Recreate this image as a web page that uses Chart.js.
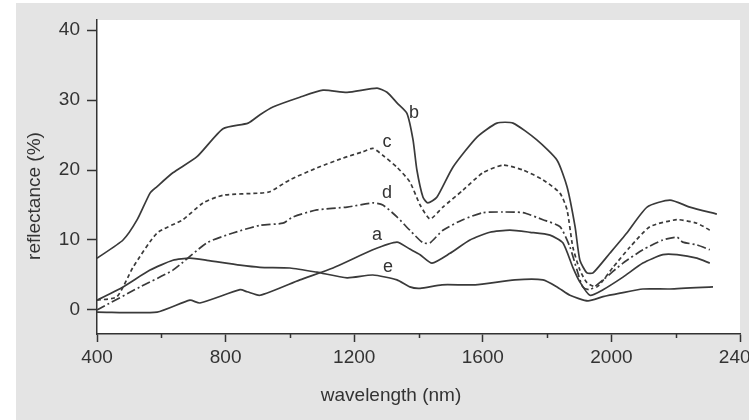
<!DOCTYPE html>
<html>
<head>
<meta charset="utf-8">
<script src="https://cdn.jsdelivr.net/npm/chart.js"></script>
<style>
  html, body { margin: 0; padding: 0; background: #fff; }
</style>
</head>
<body>
<canvas id="spectra" width="749" height="420"></canvas>
<script>
// wavelength (nm) / reflectance (%), one pair per curve
const aWave = [400, 587, 689, 720, 845, 867, 907, 1031, 1134, 1258, 1333, 1373, 1405, 1442, 1498, 1560, 1622, 1684, 1747, 1809, 1849, 1880, 1902, 1933, 1974, 2036, 2098, 2160, 2204, 2266, 2306];
const aRefl = [-0.3, -0.3, 1.4, 1.0, 2.9, 2.6, 2.1, 4.3, 6.0, 8.6, 9.7, 8.7, 7.9, 6.7, 8.1, 10.0, 11.1, 11.4, 11.1, 10.7, 9.6, 6.1, 4.0, 2.1, 2.9, 4.7, 6.7, 7.9, 7.9, 7.4, 6.7];

const bWave = [400, 481, 525, 565, 586, 636, 711, 792, 870, 907, 947, 1031, 1103, 1178, 1271, 1302, 1333, 1364, 1383, 1395, 1414, 1429, 1457, 1507, 1582, 1644, 1694, 1768, 1831, 1862, 1887, 1902, 1924, 1943, 1995, 2048, 2111, 2182, 2244, 2328];
const bRefl = [7.4, 10.0, 12.9, 16.7, 17.6, 19.6, 21.9, 25.9, 26.7, 27.9, 29.0, 30.4, 31.4, 31.1, 31.7, 31.1, 29.6, 28.1, 24.3, 20.0, 16.1, 15.3, 16.1, 20.4, 24.7, 26.7, 26.7, 24.3, 21.4, 17.6, 11.9, 7.1, 5.3, 5.3, 8.1, 11.0, 14.7, 15.7, 14.7, 13.7];

const cWave = [400, 462, 512, 587, 667, 730, 792, 907, 938, 1000, 1084, 1165, 1227, 1258, 1289, 1333, 1373, 1405, 1436, 1476, 1538, 1600, 1663, 1725, 1787, 1840, 1862, 1880, 1902, 1924, 1955, 2005, 2058, 2120, 2204, 2266, 2306];
const cRefl = [1.4, 1.9, 6.1, 11.0, 12.9, 15.3, 16.4, 16.7, 16.9, 18.6, 20.3, 21.7, 22.6, 23.1, 22.1, 20.4, 18.3, 15.0, 13.0, 14.7, 17.1, 19.6, 20.7, 20.0, 18.6, 16.7, 14.3, 9.0, 5.7, 3.9, 3.3, 6.1, 9.0, 11.9, 12.9, 12.4, 11.4];

const dWave = [400, 534, 636, 742, 823, 907, 978, 1010, 1084, 1178, 1258, 1289, 1333, 1373, 1414, 1436, 1476, 1538, 1600, 1663, 1725, 1787, 1840, 1871, 1893, 1911, 1933, 1974, 2036, 2098, 2160, 2204, 2222, 2266, 2306];
const dRefl = [0.0, 3.3, 5.7, 9.6, 11.0, 12.1, 12.4, 13.3, 14.3, 14.7, 15.3, 15.0, 13.3, 11.4, 9.6, 9.6, 11.4, 12.9, 13.9, 14.0, 13.9, 12.9, 11.9, 9.0, 5.7, 3.3, 2.9, 4.3, 6.7, 8.6, 10.0, 10.4, 9.7, 9.3, 8.6];

const eWave = [400, 481, 565, 636, 689, 742, 845, 907, 1000, 1084, 1178, 1258, 1333, 1373, 1405, 1473, 1576, 1700, 1787, 1831, 1871, 1927, 1974, 2027, 2098, 2182, 2316];
const eRefl = [1.4, 3.3, 5.7, 7.1, 7.4, 7.1, 6.4, 6.1, 6.0, 5.4, 4.6, 5.0, 4.3, 3.3, 3.1, 3.6, 3.6, 4.3, 4.3, 3.3, 2.1, 1.3, 1.9, 2.4, 3.0, 3.0, 3.3];

const xTicks = [400, 800, 1200, 1600, 2000, 2400];
const xMinorTicks = [600, 1000, 1400, 1800, 2200];
const yTicks = [0, 10, 20, 30, 40];

const curveNames = ['a', 'b', 'c', 'd', 'e'];

const toPoints = (w, r) => w.map((v, i) => ({x: v, y: r[i]}));

// where each letter sits, in wavelength / reflectance units
const letterAt = {
  a: [1271, 10.7], b: [1386, 28.1], c: [1302, 24.0], d: [1302, 16.7], e: [1305, 6.1]
};

const ink = '#333';
const font = '"Liberation Sans", Arial, sans-serif';

const paper = {
  id: 'paper',
  beforeDraw(chart) {
    const {ctx, chartArea: ca, width, height} = chart;
    ctx.save();
    ctx.fillStyle = '#fff';
    ctx.fillRect(0, 0, width, height);
    ctx.fillStyle = '#e4e4e4';
    ctx.fillRect(16, 3, width - 16, height - 3);
    ctx.fillStyle = '#fff';
    ctx.fillRect(ca.left, ca.top, ca.right - ca.left, ca.bottom - ca.top);
    ctx.restore();
  },
  afterDraw(chart) {
    const {ctx, scales: {x, y}} = chart;
    ctx.save();
    ctx.strokeStyle = ink;
    ctx.lineWidth = 1.5;
    xMinorTicks.forEach(v => {
      const px = Math.round(x.getPixelForValue(v)) + 0.5;
      ctx.beginPath();
      ctx.moveTo(px, y.bottom);
      ctx.lineTo(px, y.bottom + 4);
      ctx.stroke();
    });

    ctx.fillStyle = ink;
    ctx.textAlign = 'center';
    ctx.textBaseline = 'middle';
    ctx.font = '18px ' + font;
    curveNames.forEach(n => {
      const [w, r] = letterAt[n];
      ctx.fillText(n, x.getPixelForValue(w), y.getPixelForValue(r));
    });

    ctx.font = '19px ' + font;
    ctx.fillText('wavelength (nm)', 391, 396);
    ctx.translate(35, 196);
    ctx.rotate(-Math.PI / 2);
    ctx.fillText('reflectance (%)', 0, 0);
    ctx.restore();
  }
};

const line = (name, w, r, dash) => ({
  label: name,
  data: toPoints(w, r),
  borderColor: '#3a3a3a',
  borderWidth: 1.7,
  borderDash: dash,
  pointRadius: 0,
  tension: 0.2,
  fill: false
});

new Chart(document.getElementById('spectra'), {
  type: 'line',
  data: {
    datasets: [
      line('a', aWave, aRefl, []),
      line('b', bWave, bRefl, []),
      line('c', cWave, cRefl, [4, 3]),
      line('d', dWave, dRefl, [9, 3, 2, 3]),
      line('e', eWave, eRefl, [])
    ]
  },
  options: {
    responsive: false,
    animation: false,
    layout: { padding: { top: 20, right: 9, left: 0, bottom: 0 } },
    plugins: { legend: { display: false }, tooltip: { enabled: false } },
    scales: {
      x: {
        type: 'linear',
        min: 400,
        max: 2400,
        afterBuildTicks: s => { s.ticks = xTicks.map(v => ({value: v})); },
        afterFit: s => { s.height = 86; s.paddingLeft = 0; s.paddingRight = 0; },
        grid: { drawOnChartArea: false, tickLength: 8, color: ink, tickWidth: 1.5 },
        border: { color: ink, width: 1.5 },
        ticks: {
          color: ink, padding: 4, maxRotation: 0,
          font: { family: font, size: 19 },
          callback: v => String(v)
        }
      },
      y: {
        min: -3.43,
        max: 41.43,
        afterBuildTicks: s => { s.ticks = yTicks.map(v => ({value: v})); },
        afterFit: s => { s.width = 97; s.paddingTop = 0; s.paddingBottom = 0; },
        grid: { drawOnChartArea: false, tickLength: 10, color: ink, tickWidth: 1.5 },
        border: { color: ink, width: 1.5 },
        ticks: { color: ink, padding: 7, font: { family: font, size: 19 }, callback: v => String(v) }
      }
    }
  },
  plugins: [paper]
});
</script>
</body>
</html>
